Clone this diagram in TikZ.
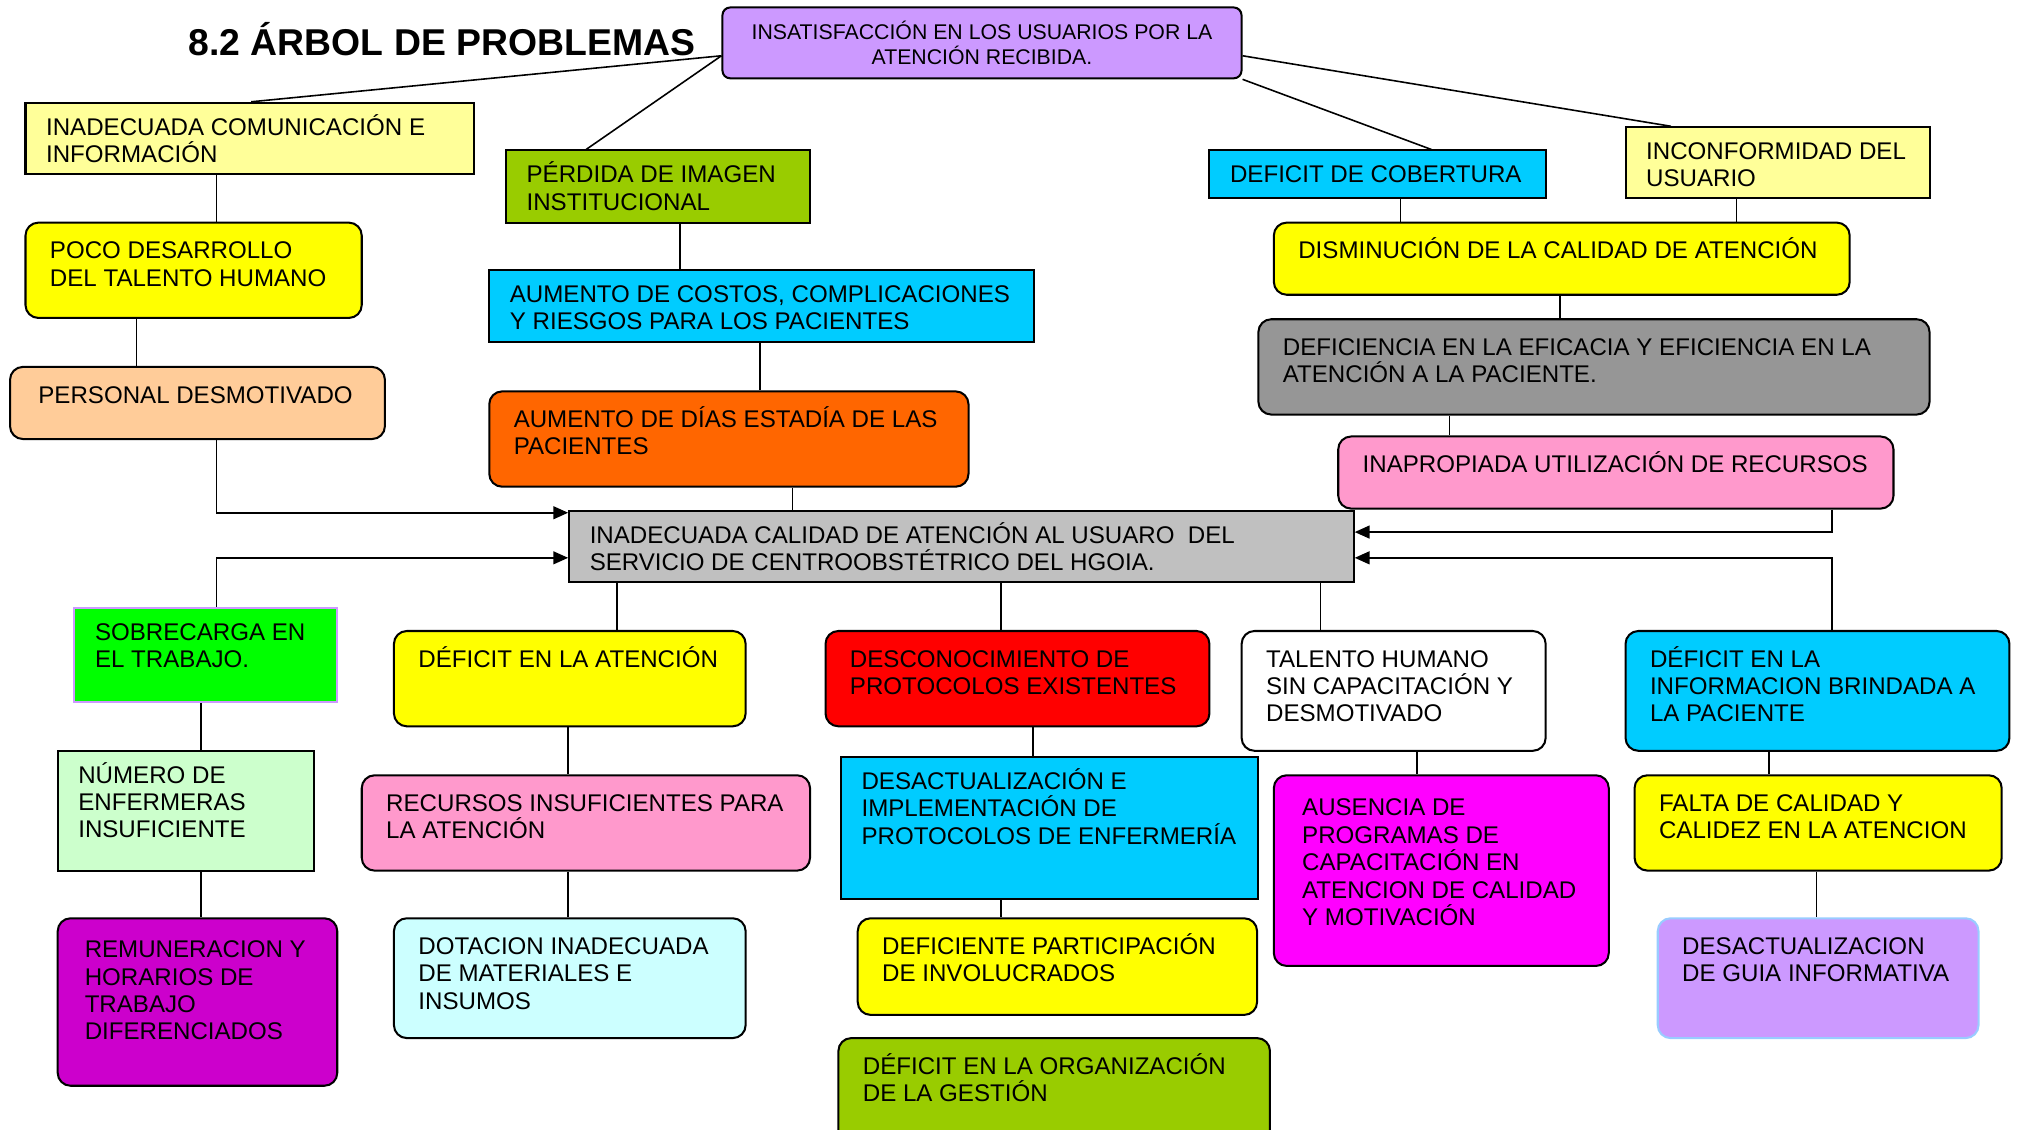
\documentclass[tikz,border=0pt]{standalone}
\usepackage{fontspec}
\setmainfont{Liberation Sans}
\usepackage{tikz}
\usetikzlibrary{arrows.meta,positioning}

\definecolor{lilac}{HTML}{CC99FF}
\definecolor{lightyel}{HTML}{FFFF99}
\definecolor{olive}{HTML}{99CC00}
\definecolor{sky}{HTML}{00CCFF}
\definecolor{yel}{HTML}{FFFF00}
\definecolor{peach}{HTML}{FFCC99}
\definecolor{darkgray}{HTML}{969696}
\definecolor{orng}{HTML}{FF6600}
\definecolor{pinkish}{HTML}{FF99CC}
\definecolor{lightgray}{HTML}{C0C0C0}
\definecolor{brightgreen}{HTML}{00FF00}
\definecolor{pale green}{HTML}{CCFFCC}
\definecolor{mag}{HTML}{FF00FF}
\definecolor{violet}{HTML}{CC00CC}
\definecolor{palecyan}{HTML}{CCFFFF}
\definecolor{paleblue}{HTML}{99CCFF}

\newlength\pxu
\setlength\pxu{0.02cm}
% text block of a box: left pad, top pad, width, height, text
\newcommand{\cellbox}[5]{\parbox[c][#4\pxu][t]{#3\pxu}{\raggedright\leftskip=#1\pxu
  \rule{0pt}{\dimexpr #2\pxu+10pt\relax}#5}}
\newcommand{\rcell}[3]{\cellbox{16}{7.5}{#1}{#2}{#3}}
\newcommand{\ocell}[3]{\cellbox{19}{10.5}{#1}{#2}{#3}}

\begin{document}
\begin{tikzpicture}[x=0.02cm,y=-0.02cm,>={Triangle[length=0.23cm,width=0.2cm]},
    line width=0.7pt,
    rect box/.style={draw,line width=0.9pt,anchor=north west,inner sep=0pt,
      font=\fontsize{10.65}{12.1}\selectfont},
    round box/.style={rect box,rounded corners=0.2cm},
    top box/.style={draw,line width=0.9pt,rounded corners=0.12cm,fill=lilac,anchor=north west,
      inner sep=0pt,minimum width=8.06cm,minimum height=1.1cm,align=center,
      font=\fontsize{9.4}{10.8}\selectfont}]
  \useasboundingbox (0,0) rectangle (1568,877);

  \node[font=\fontsize{16.5}{19}\selectfont\bfseries] (title) at (343,30) {8.2 ÁRBOL DE PROBLEMAS};
  \node[top box] (top) at (560,5) {INSATISFACCIÓN EN LOS USUARIOS POR LA\\ATENCIÓN RECIBIDA.};

  % effects
  \node[rect box,fill=lightyel] (inad) at (19,79) {\rcell{348}{55}{INADECUADA COMUNICACIÓN E\\INFORMACIÓN}};
  \node[rect box,fill=olive] (perd) at (392,116) {\rcell{236}{56}{PÉRDIDA DE IMAGEN\\INSTITUCIONAL}};
  \node[rect box,fill=sky] (cob) at (938,116) {\rcell{261}{37}{DEFICIT DE COBERTURA}};
  \node[rect box,fill=lightyel] (inco) at (1261,98) {\rcell{236}{55}{INCONFORMIDAD DEL\\USUARIO}};
  \node[round box,fill=yel] (poco) at (19,172) {\ocell{261}{74}{POCO DESARROLLO\\DEL TALENTO HUMANO}};
  \node[rect box,fill=sky] (cost) at (379,209) {\rcell{423}{56}{AUMENTO DE COSTOS, COMPLICACIONES\\Y RIESGOS PARA LOS PACIENTES}};
  \node[round box,fill=yel] (dism) at (988,172) {\ocell{447}{56}{DISMINUCIÓN DE LA CALIDAD DE ATENCIÓN}};
  \node[round box,fill=peach] (pers) at (7,284) {\cellbox{22}{10.5}{291}{56}{PERSONAL DESMOTIVADO}};
  \node[round box,fill=darkgray] (defi) at (976,247) {\ocell{521}{74}{DEFICIENCIA EN LA EFICACIA Y EFICIENCIA EN LA\\ATENCIÓN A LA PACIENTE.}};
  \node[round box,fill=orng] (dias) at (379,303) {\ocell{372}{74}{AUMENTO DE DÍAS ESTADÍA DE LAS\\PACIENTES}};
  \node[round box,fill=pinkish] (inap) at (1038,338) {\ocell{431}{56}{INAPROPIADA UTILIZACIÓN DE RECURSOS}};

  % central problem
  \node[rect box,fill=lightgray] (cent) at (441,396) {\rcell{609}{55}{INADECUADA CALIDAD DE ATENCIÓN AL USUARO~ DEL\\SERVICIO DE CENTROOBSTÉTRICO DEL HGOIA.}};

  % causes
  \node[rect box,fill=brightgreen,draw=lilac] (sob) at (57,471) {\rcell{204}{73}{SOBRECARGA EN\\EL TRABAJO.}};
  \node[round box,fill=yel] (aten) at (305,489) {\ocell{273}{74}{DÉFICIT EN LA ATENCIÓN}};
  \node[round box,fill=red] (desc) at (640,489) {\ocell{298}{74}{DESCONOCIMIENTO DE\\PROTOCOLOS EXISTENTES}};
  \node[round box,fill=white] (tal) at (963,489) {\ocell{236}{93}{TALENTO HUMANO\\SIN CAPACITACIÓN Y\\DESMOTIVADO}};
  \node[round box,fill=sky] (info) at (1261,489) {\ocell{298}{93}{DÉFICIT EN LA\\INFORMACION BRINDADA A\\LA PACIENTE}};
  \node[rect box,fill=pale green] (num) at (44,582) {\rcell{199}{93}{NÚMERO DE\\ENFERMERAS\\INSUFICIENTE}};
  \node[round box,fill=pinkish] (recu) at (280,601) {\ocell{348}{74}{RECURSOS INSUFICIENTES PARA\\LA ATENCIÓN}};
  \node[rect box,fill=sky] (dact) at (652,587) {\rcell{324}{110}{DESACTUALIZACIÓN E\\IMPLEMENTACIÓN DE\\PROTOCOLOS DE ENFERMERÍA}};
  \node[round box,fill=mag] (aus) at (988,601) {\cellbox{22}{14}{260}{148}{AUSENCIA DE\\PROGRAMAS DE\\CAPACITACIÓN EN\\ATENCION DE CALIDAD\\Y MOTIVACIÓN}};
  \node[round box,fill=yel] (fal) at (1268,601) {\ocell{285}{74}{FALTA DE CALIDAD Y\\CALIDEZ EN LA ATENCION}};
  \node[round box,fill=violet] (rem) at (44,712) {\cellbox{21}{13}{217}{130}{REMUNERACION Y\\HORARIOS DE\\TRABAJO\\DIFERENCIADOS}};
  \node[round box,fill=palecyan] (dot) at (305,712) {\ocell{273}{93}{DOTACION INADECUADA\\DE MATERIALES E\\INSUMOS}};
  \node[round box,fill=yel] (part) at (665,712) {\ocell{310}{75}{DEFICIENTE PARTICIPACIÓN\\DE INVOLUCRADOS}};
  \node[round box,fill=lilac,draw=paleblue] (guia) at (1286,712) {\ocell{249}{93}{DESACTUALIZACION\\DE GUIA INFORMATIVA}};
  \node[round box,fill=olive] (org) at (650,805) {\ocell{335}{82}{DÉFICIT EN LA ORGANIZACIÓN\\DE LA GESTIÓN}};

  % top links
  \draw ([yshift=-0.2cm]top.west) -- (195,0 |- inad.north);
  \draw ([yshift=-0.2cm]top.west) -- (455,0 |- perd.north);
  \draw ([yshift=-0.2cm]top.east) -- (1297,0 |- inco.north);
  \draw (top.south east) -- (1111,0 |- cob.north);

  % effect chains
  \draw (168,0 |- inad.south) -- (168,0 |- poco.north);
  \draw (106,0 |- poco.south) -- (106,0 |- pers.north);
  \draw[->] (168,0 |- pers.south) |- (cent.west |- 0,398);
  \draw (528,0 |- perd.south) -- (528,0 |- cost.north);
  \draw (590,0 |- cost.south) -- (590,0 |- dias.north);
  \draw (615,0 |- dias.south) -- (615,0 |- cent.north);
  \draw (1087,0 |- cob.south) -- (1087,0 |- dism.north);
  \draw (1348,0 |- inco.south) -- (1348,0 |- dism.north);
  \draw (1211,0 |- dism.south) -- (1211,0 |- defi.north);
  \draw (1125,0 |- defi.south) -- (1125,0 |- inap.north);
  \draw[->] (1422,0 |- inap.south) |- (cent.east |- 0,413);

  % cause chains
  \draw[->] (168,0 |- sob.north) |- (cent.west |- 0,433);
  \draw[->] (1422,0 |- info.north) |- (cent.east |- 0,433);
  \draw (479,0 |- cent.south) -- (479,0 |- aten.north);
  \draw (777,0 |- cent.south) -- (777,0 |- desc.north);
  \draw (1025,0 |- cent.south) -- (1025,0 |- tal.north);
  \draw (156,0 |- sob.south) -- (156,0 |- num.north);
  \draw (156,0 |- num.south) -- (156,0 |- rem.north);
  \draw (441,0 |- aten.south) -- (441,0 |- recu.north);
  \draw (441,0 |- recu.south) -- (441,0 |- dot.north);
  \draw (802,0 |- desc.south) -- (802,0 |- dact.north);
  \draw (777,0 |- dact.south) -- (777,0 |- part.north);
  \draw (1100,0 |- tal.south) -- (1100,0 |- aus.north);
  \draw (1373,0 |- info.south) -- (1373,0 |- fal.north);
  \draw (1410,0 |- fal.south) -- (1410,0 |- guia.north);
\end{tikzpicture}
\end{document}
